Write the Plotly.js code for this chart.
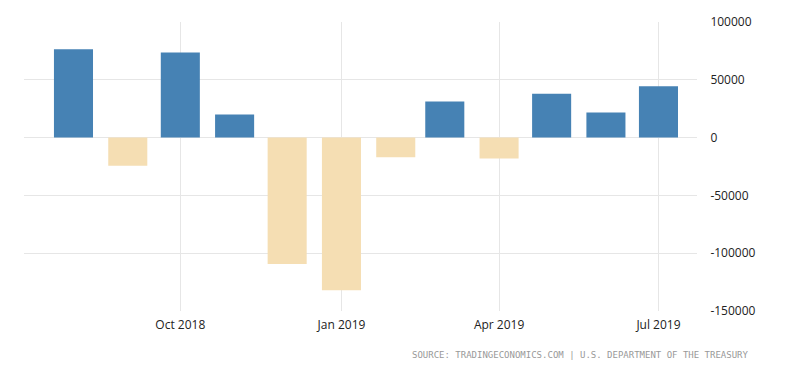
<!DOCTYPE html>
<html>
<head>
<meta charset="utf-8">
<script src="https://cdn.plot.ly/plotly-3.0.1.min.js"></script>
<style>html,body{margin:0;padding:0;background:#fff;}#chart{width:800px;height:373px;}</style>
</head>
<body>
<div id="chart"></div>
<script>
const months = ["2018-08-01","2018-09-01","2018-10-01","2018-11-01","2018-12-01","2019-01-01","2019-02-01","2019-03-01","2019-04-01","2019-05-01","2019-06-01","2019-07-01"];
const values = [76400, -24300, 73700, 20000, -109400, -132000, -17100, 31300, -18000, 37900, 21700, 44500];
const tickVals = ["2018-10-01","2019-01-01","2019-04-01","2019-07-01"];
const tickText = ["Oct 2018","Jan 2019","Apr 2019","Jul 2019"];
const yTicks = [100000, 50000, 0, -50000, -100000, -150000];
const sourceText = "SOURCE: TRADINGECONOMICS.COM | U.S. DEPARTMENT OF THE TREASURY";

const colors = values.map(v => v >= 0 ? "#4682b4" : "#f5deb3");
const dayMs = 86400000;

const trace = {
  type: "bar",
  x: months,
  y: values,
  width: months.map(() => 22.3 * dayMs),
  marker: {color: colors, line: {width: 0}},
  hoverinfo: "x+y"
};

const layout = {
  width: 800, height: 373,
  margin: {l: 24, r: 103, t: 21.5, b: 62},
  paper_bgcolor: "#fff", plot_bgcolor: "#fff",
  showlegend: false,
  font: {family: "Open Sans, sans-serif", size: 12, color: "#333"},
  xaxis: {
    type: "date",
    range: ["2018-07-03 18:00", "2019-07-23"],
    tickvals: tickVals,
    ticktext: tickText,
    showgrid: true, gridcolor: "#e6e6e6", gridwidth: 1,
    zeroline: false, showline: false,
    ticks: "outside", ticklen: 3, tickcolor: "rgba(0,0,0,0)",
    tickfont: {family: "Open Sans, sans-serif", size: 12, color: "#222"}
  },
  yaxis: {
    side: "right",
    range: [-150000, 100000],
    tickvals: yTicks,
    ticktext: yTicks.map(String),
    showgrid: true, gridcolor: "#e6e6e6", gridwidth: 1,
    zeroline: true, zerolinecolor: "#e6e6e6", zerolinewidth: 1,
    showline: false, ticks: "outside", ticklen: 10, tickcolor: "rgba(0,0,0,0)",
    tickfont: {family: "Open Sans, sans-serif", size: 12, color: "#222"}
  },
  annotations: [{
    xref: "paper", yref: "paper",
    x: (751 - 24) / (800 - 24 - 103), y: -(355 - 311) / (373 - 21.5 - 62),
    xanchor: "right", yanchor: "middle",
    text: sourceText, showarrow: false,
    font: {family: "DejaVu Sans Mono, monospace", size: 9, color: "#999"}
  }]
};

Plotly.newPlot("chart", [trace], layout, {displayModeBar: false, staticPlot: true});
</script>
</body>
</html>
